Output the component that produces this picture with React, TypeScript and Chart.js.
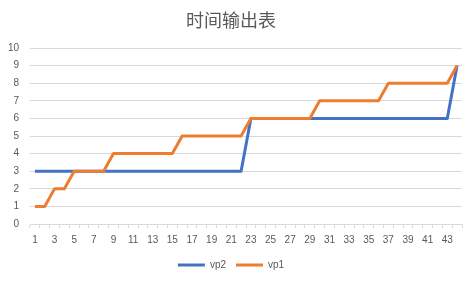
import React, { useEffect, useRef } from "react";
import { Chart, registerables } from "chart.js";

Chart.register(...registerables);

const title = "时间输出表";
const categories = [
  "1", "2", "3", "4", "5", "6", "7", "8", "9", "10", "11",
  "12", "13", "14", "15", "16", "17", "18", "19", "20", "21", "22",
  "23", "24", "25", "26", "27", "28", "29", "30", "31", "32", "33",
  "34", "35", "36", "37", "38", "39", "40", "41", "42", "43", "44",
];
const seriesNames = ["vp2", "vp1"];
const vp2Values = [
  3, 3, 3, 3, 3, 3, 3, 3, 3, 3, 3,
  3, 3, 3, 3, 3, 3, 3, 3, 3, 3, 3,
  6, 6, 6, 6, 6, 6, 6, 6, 6, 6, 6,
  6, 6, 6, 6, 6, 6, 6, 6, 6, 6, 9,
];
const vp1Values = [
  1, 1, 2, 2, 3, 3, 3, 3, 4, 4, 4,
  4, 4, 4, 4, 5, 5, 5, 5, 5, 5, 5,
  6, 6, 6, 6, 6, 6, 6, 7, 7, 7, 7,
  7, 7, 7, 8, 8, 8, 8, 8, 8, 8, 9,
];
const yTicks = [0, 1, 2, 3, 4, 5, 6, 7, 8, 9, 10];

const BLUE = "#4472C4";
const ORANGE = "#ED7D31";
const TEXT = "#595959";
const GRID = "#D9D9D9";
const FONT = "'Liberation Sans', Arial, sans-serif";

export default function App() {
  const ref = useRef<HTMLCanvasElement | null>(null);

  useEffect(() => {
    if (!ref.current) return;
    const chart = new Chart(ref.current, {
      type: "line",
      data: {
        labels: categories,
        datasets: [
          {
            label: seriesNames[1],
            data: vp1Values,
            borderColor: ORANGE,
            backgroundColor: ORANGE,
            borderWidth: 3,
            pointRadius: 0,
            tension: 0,
            borderJoinStyle: "round",
            fill: false,
          },
          {
            label: seriesNames[0],
            data: vp2Values,
            borderColor: BLUE,
            backgroundColor: BLUE,
            borderWidth: 3,
            pointRadius: 0,
            tension: 0,
            borderJoinStyle: "round",
            fill: false,
          },
        ],
      },
      options: {
        animation: false,
        responsive: false,
        maintainAspectRatio: false,
        layout: { padding: { left: 0, right: 13, top: 0, bottom: 4 } },
        plugins: {
          tooltip: { enabled: false },
          title: {
            display: true,
            text: title,
            color: TEXT,
            font: { family: "'Noto Sans CJK SC', sans-serif", size: 18, weight: "normal" },
            padding: { top: 9, bottom: 17.4 },
          },
          legend: {
            position: "bottom",
            reverse: true,
            labels: {
              usePointStyle: true,
              pointStyle: "line",
              pointStyleWidth: 27,
              boxWidth: 27,
              color: TEXT,
              font: { family: FONT, size: 10 },
              padding: 10,
            },
          },
        },
        scales: {
          x: {
            type: "category",
            offset: true,
            afterFit: (s: any) => {
              s.height = 26;
            },
            grid: {
              drawOnChartArea: false,
              drawTicks: true,
              tickLength: 4,
              offset: true,
              color: GRID,
            },
            border: { display: true, color: GRID, width: 1 },
            ticks: {
              autoSkip: false,
              maxRotation: 0,
              minRotation: 0,
              padding: 6,
              color: TEXT,
              font: { family: FONT, size: 10 },
              callback: (_v: any, i: number) => (i % 2 === 0 ? categories[i] : ""),
            },
          },
          y: {
            min: yTicks[0],
            max: yTicks[yTicks.length - 1],
            afterFit: (s: any) => {
              s.width = 30;
            },
            afterBuildTicks: (s: any) => {
              s.ticks = yTicks.map((v) => ({ value: v }));
            },
            grid: { color: GRID, drawTicks: false },
            border: { display: false },
            ticks: {
              padding: 11,
              color: TEXT,
              font: { family: FONT, size: 10 },
            },
          },
        },
      },
    });
    return () => chart.destroy();
  }, []);

  return (
    <div style={{ position: "fixed", left: 0, top: 0, width: 475, height: 284, background: "#fff" }}>
      <canvas ref={ref} width={475} height={284} style={{ width: 475, height: 284 }} />
    </div>
  );
}
